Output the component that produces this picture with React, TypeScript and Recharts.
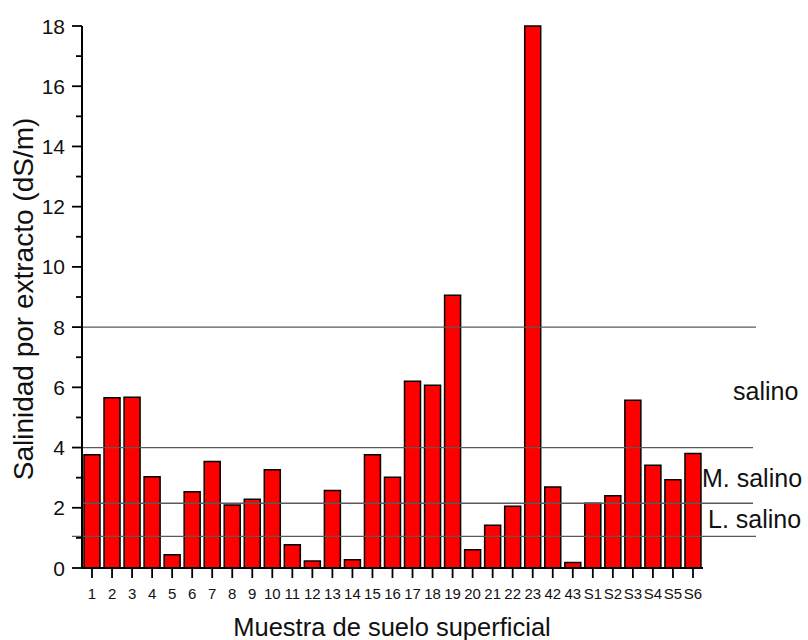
import { Bar, BarChart, ReferenceLine, XAxis, YAxis } from "recharts";

// Soil samples and their extract salinity (dS/m)
const samples = [
    "1", "2", "3", "4", "5", "6", "7", "8", "9", "10", "11", "12", "13", "14", "15", "16",
    "17", "18", "19", "20", "21", "22", "23", "42", "43", "S1", "S2", "S3", "S4", "S5", "S6",
];
const salinity = [
    3.76, 5.65, 5.67, 3.03, 0.44, 2.53, 3.54, 2.09, 2.28, 3.26, 0.77, 0.23, 2.57, 0.27, 3.76, 3.01,
    6.2, 6.07, 9.06, 0.61, 1.42, 2.05, 18, 2.69, 0.18, 2.15, 2.4, 5.57, 3.41, 2.93, 3.8,
];
const yTicks = [0, 1, 2, 3, 4, 5, 6, 7, 8, 9, 10, 11, 12, 13, 14, 15, 16, 17, 18];

// Class limits and the class names written between them
const classLimits = [8, 4, 2.15, 1.05];
const classNames = ["salino", "M. salino", "L. salino"];

const data = samples.map((name, i) => ({ name, value: salinity[i] }));

const FONT = "'Liberation Sans', Arial, sans-serif";
const Y_TICK_SIZE = 10;
const Y_TICK_MARGIN = 7;

// Left-axis tick: long mark + label on even values, short mark on odd ones
const YTick = ({ x, y, payload }: any) => {
    const major = payload.value % 2 === 0;
    const axisX = x + Y_TICK_SIZE + Y_TICK_MARGIN;
    return (
        <g>
            <line x1={axisX - (major ? 10 : 6)} x2={axisX} y1={y} y2={y} stroke="#000" strokeWidth={1.8} />
            {major && (
                <text x={x} y={y} dy="0.36em" textAnchor="end" fontSize={21} fill="#111" fontFamily={FONT}>
                    {payload.value}
                </text>
            )}
        </g>
    );
};

// Limit lines run past the last bar, the lowest one also starts left of the axis
const limitShape = (extendLeft: number, extendRight: number) => (props: any) => (
    <line
        x1={props.x1 - extendLeft}
        y1={props.y1}
        x2={props.x2 + extendRight}
        y2={props.y2}
        stroke="#5a5a5a"
        strokeWidth={1.3}
    />
);

export default function App() {
    return (
        <div style={{ position: "absolute", left: 0, top: 0, width: 808, height: 640, background: "#fff", fontFamily: FONT }}>
            <BarChart
                width={808}
                height={640}
                data={data}
                margin={{ top: 26, right: 105, bottom: 0, left: 0 }}
                barSize={16}
            >
                <XAxis
                    dataKey="name"
                    interval={0}
                    height={72}
                    tickSize={10}
                    tickMargin={10}
                    axisLine={{ stroke: "#000", strokeWidth: 2 }}
                    tickLine={{ stroke: "#000", strokeWidth: 1.8 }}
                    tick={{ fill: "#111", fontSize: 15, fontFamily: FONT }}
                />
                <YAxis
                    width={82}
                    domain={[0, 18]}
                    ticks={yTicks}
                    interval={0}
                    tickSize={Y_TICK_SIZE}
                    tickMargin={Y_TICK_MARGIN}
                    tickLine={false}
                    axisLine={{ stroke: "#000", strokeWidth: 2 }}
                    tick={<YTick />}
                />
                <Bar dataKey="value" fill="#ff0000" stroke="#000" strokeWidth={1.5} isAnimationActive={false} />
                <ReferenceLine y={classLimits[0]} shape={limitShape(0, 53)} />
                <ReferenceLine y={classLimits[1]} shape={limitShape(0, 50)} />
                <ReferenceLine y={classLimits[2]} shape={limitShape(0, 50)} />
                <ReferenceLine y={classLimits[3]} shape={limitShape(10, 53)} />
            </BarChart>
            <svg width={808} height={640} style={{ position: "absolute", left: 0, top: 0, pointerEvents: "none" }}>
                <g fontFamily={FONT} fill="#111">
                    <text x={733} y={400} fontSize={25}>{classNames[0]}</text>
                    <text x={702} y={487} fontSize={25}>{classNames[1]}</text>
                    <text x={708} y={528} fontSize={25}>{classNames[2]}</text>
                    <text x={392} y={636} fontSize={25.5} textAnchor="middle">Muestra de suelo superficial</text>
                    <text x={33} y={299} fontSize={28} textAnchor="middle" transform="rotate(-90 33 299)">
                        Salinidad por extracto (dS/m)
                    </text>
                </g>
            </svg>
        </div>
    );
}
